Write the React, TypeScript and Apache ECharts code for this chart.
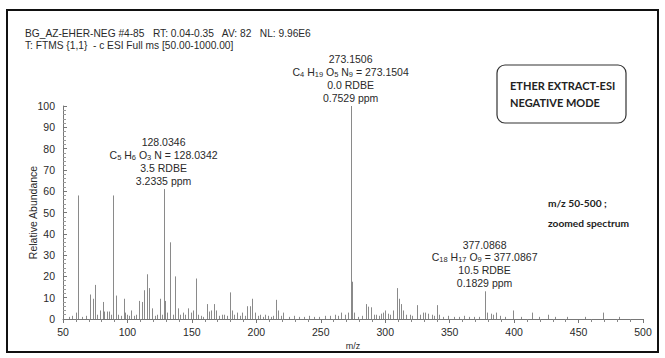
import React, { useEffect, useRef } from 'react';
import * as echarts from 'echarts';

// ---- data ----
const peakMz = [
  55, 57, 60, 62, 65, 68, 71, 73, 75, 76, 79, 81, 82, 84, 86, 87, 89, 91, 93, 95, 97, 98, 100, 101, 103, 105, 107, 109, 111, 113,
  115, 117, 119, 121, 123, 125, 127, 128.0346, 129, 131, 133, 135, 137, 139, 141, 143, 145, 147, 149, 151, 153, 155, 157, 159,
  161.5, 163, 165, 167, 169, 171, 173, 175, 177, 179.5, 181, 183, 185, 187, 189, 191, 193, 195, 197, 199, 201, 203, 205, 207,
  209, 211, 213, 215, 217, 219, 221, 225, 229, 233, 237, 241, 245, 249, 253, 257, 261, 263, 266, 269, 271, 273.1506, 274.2,
  276, 279, 282, 285, 287, 289, 291, 293, 295, 297, 298.5, 300, 302, 304, 306, 309, 311, 312.5, 314, 316, 319, 321, 325, 327,
  329, 331, 333, 336, 338, 340.5, 342, 345, 349, 353, 357, 361, 365, 369, 373, 377.0868, 379, 382, 384, 386, 389, 393, 399.5,
  405, 413.5, 419, 426, 432, 441, 455, 469, 481,
];
const peakIntensity = [
  1, 1.5, 3, 58, 1, 1.5, 11.5, 9.5, 16, 2, 4, 8, 3.5, 3.5, 3.5, 2, 58, 11, 2, 1.5, 9.5, 3, 2, 1.5, 4, 1.5, 2, 8.5, 8, 13.5,
  21, 14.5, 5, 1.5, 2, 9.5, 2, 61, 8.5, 3, 36, 2, 20, 5, 2, 3, 2, 5, 3, 4, 19, 2, 1.5, 1,
  7, 3.5, 4, 7, 4, 1.5, 2, 2, 1.5, 12.5, 4, 2, 3, 1.5, 3, 1.5, 6, 6, 9.5, 3, 1.5, 2, 1, 2,
  1.5, 1, 1.5, 9, 4, 1.5, 3, 1, 1.5, 1, 1, 1.5, 1, 1, 1.5, 1.5, 2, 1.5, 3, 2, 3, 100, 17.5,
  3, 1, 1.5, 7, 5.8, 5.5, 2, 2, 1.5, 2.5, 3, 4, 2.5, 2, 4, 14.5, 9.5, 7, 4, 2, 2, 1.5, 6.5, 2,
  3, 3, 2.5, 2, 1.5, 6.5, 2, 1, 1.5, 1, 1, 1.5, 1, 1, 1, 13, 3, 2.5, 2, 3, 1.5, 1, 4,
  1, 3, 1, 2, 1, 1, 1, 3, 1,
];

const annMz = [128.0346, 273.1506, 377.0868];
const annIntensity = [61, 100, 13];
const annObserved = ['128.0346', '273.1506', '377.0868'];
const annFormula = [
  [['C', '5'], ['H', '6'], ['O', '3'], ['N', '']],
  [['C', '4'], ['H', '19'], ['O', '5'], ['N', '9']],
  [['C', '18'], ['H', '17'], ['O', '9']],
];
const annTheoretical = ['128.0342', '273.1504', '377.0867'];
const annRdbe = ['3.5 RDBE', '0.0 RDBE', '10.5 RDBE'];
const annPpm = ['3.2335 ppm', '0.7529 ppm', '0.1829 ppm'];

const headerLines = [
  'BG_AZ-EHER-NEG #4-85   RT: 0.04-0.35   AV: 82   NL: 9.96E6',
  'T: FTMS {1,1}  - c ESI Full ms [50.00-1000.00]',
];
const boxLines = ['ETHER EXTRACT-ESI', 'NEGATIVE MODE'];
const noteLines = ['m/z 50-500 ;', 'zoomed spectrum'];
const xAxisName = 'm/z';
const yAxisName = 'Relative Abundance';

const FONT = '"Liberation Sans", Arial, sans-serif';
const TEXT = '#2a2a2a';

export default function App() {
  const ref = useRef<HTMLDivElement>(null);
  useEffect(() => {
    if (!ref.current) return;
    const chart = echarts.init(ref.current, null, { renderer: 'svg' });
    const peaks = peakMz.map((m, i) => [m, peakIntensity[i]]);
    const ann = annMz.map((m, i) => [m, annIntensity[i], i]);
    const formulaRich = (i: number) =>
      annFormula[i].map(([el, n]) => `{n|${el}}` + (n ? `{s|${n}}` : '')).join('{n| }') + `{n| = ${annTheoretical[i]}}`;

    chart.setOption({
      animation: false,
      backgroundColor: '#ffffff',
      grid: { left: 63, right: 22, top: 106, bottom: 39 },
      xAxis: {
        type: 'value',
        min: 50,
        max: 500,
        interval: 50,
        name: xAxisName,
        nameLocation: 'middle',
        nameGap: 22,
        nameMoveOverlap: false,
        nameTextStyle: { fontFamily: FONT, fontSize: 9, color: TEXT },
        axisLine: { show: true, onZero: false, lineStyle: { color: '#777', width: 1 } },
        axisTick: { show: true, inside: false, length: 4, lineStyle: { color: '#777' } },
        minorTick: { show: true, splitNumber: 5, length: 3, lineStyle: { color: '#888' } },
        axisLabel: { fontFamily: FONT, fontSize: 10.5, color: TEXT, margin: 7 },
        splitLine: { show: false },
      },
      yAxis: {
        type: 'value',
        min: 0,
        max: 100,
        interval: 10,
        name: yAxisName,
        nameLocation: 'middle',
        nameGap: 25,
        nameMoveOverlap: false,
        nameTextStyle: { fontFamily: FONT, fontSize: 10.5, color: TEXT },
        axisLine: { show: true, lineStyle: { color: '#777', width: 1 } },
        axisTick: { show: true, inside: true, length: 4, lineStyle: { color: '#777' } },
        minorTick: { show: true, splitNumber: 5, length: 3, lineStyle: { color: '#999' } },
        axisLabel: { fontFamily: FONT, fontSize: 10.5, color: TEXT, margin: 8 },
        splitLine: { show: false },
      },
      series: [
        {
          type: 'custom',
          data: peaks,
          clip: true,
          renderItem: (params: any, api: any) => {
            const x = api.value(0);
            const y = api.value(1);
            const p0 = api.coord([x, 0]);
            const p1 = api.coord([x, y]);
            const px = Math.round(p0[0]) + 0.5;
            return {
              type: 'line',
              shape: { x1: px, y1: p0[1], x2: px, y2: p1[1] },
              style: { stroke: '#8a8a8a', lineWidth: 1 },
            };
          },
        },
        {
          type: 'custom',
          data: ann,
          z: 5,
          renderItem: (params: any, api: any) => {
            const i = api.value(2);
            const p = api.coord([api.value(0), api.value(1)]);
            return {
              type: 'text',
              x: p[0],
              y: p[1] - 2,
              style: {
                text: [annObserved[i], formulaRich(i), annRdbe[i], annPpm[i]].join('\n'),
                align: 'center',
                verticalAlign: 'bottom',
                fontFamily: FONT,
                fontSize: 10.5,
                lineHeight: 12.8,
                fill: TEXT,
                rich: {
                  n: { fontFamily: FONT, fontSize: 10.5, lineHeight: 12.8, fill: TEXT },
                  s: { fontFamily: FONT, fontSize: 7.5, lineHeight: 12.8, fill: TEXT, verticalAlign: 'bottom' },
                },
              },
            };
          },
        },
      ],
      graphic: [
        {
          type: 'rect',
          shape: { x: 7, y: 10, width: 651, height: 342 },
          style: { fill: 'none', stroke: '#111', lineWidth: 2 },
          silent: true,
        },
        {
          type: 'text',
          x: 25,
          y: 27,
          style: { text: headerLines.join('\n'), fontFamily: FONT, fontSize: 10.2, lineHeight: 12, fill: TEXT },
        },
        {
          type: 'rect',
          shape: { x: 497, y: 65, width: 129, height: 58, r: 8 },
          style: { fill: '#fff', stroke: '#333', lineWidth: 1.2 },
        },
        {
          type: 'text',
          x: 510,
          y: 77,
          style: {
            text: boxLines.join('\n'),
            fontFamily: 'Lato, "Open Sans", sans-serif',
            fontWeight: 'bold',
            fontSize: 11,
            lineHeight: 17,
            fill: '#222',
          },
        },
        {
          type: 'text',
          x: 548,
          y: 193,
          style: {
            text: noteLines.join('\n'),
            fontFamily: 'Lato, "Open Sans", sans-serif',
            fontWeight: 'bold',
            fontSize: 10.2,
            lineHeight: 20,
            fill: '#222',
          },
        },
      ],
    });
    return () => chart.dispose();
  }, []);
  return <div ref={ref} style={{ position: 'fixed', left: 0, top: 0, width: 665, height: 358 }} />;
}
